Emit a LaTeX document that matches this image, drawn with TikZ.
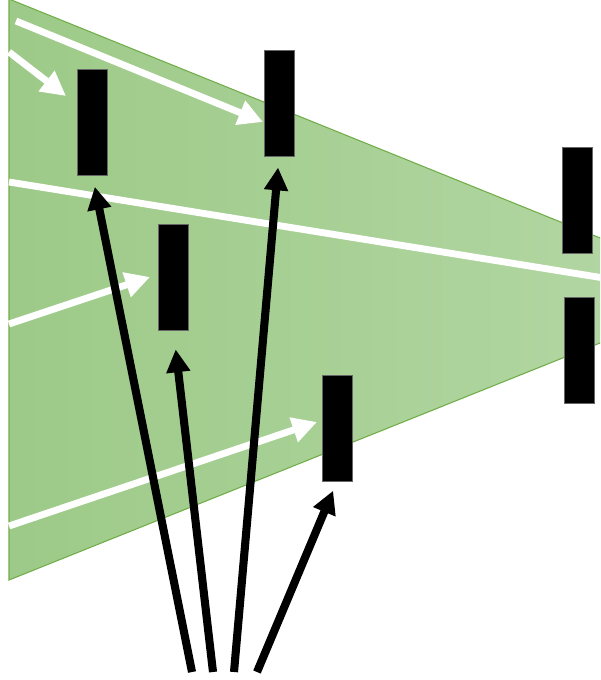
\documentclass[tikz,border=0pt]{standalone}
\usetikzlibrary{arrows.meta}
\definecolor{gleft}{RGB}{157,202,136}
\definecolor{gright}{RGB}{178,214,162}
\definecolor{gedge}{RGB}{112,173,71}
\tikzset{
  blk/.style={draw=black!60, line width=0.4pt, fill=black, minimum width=30*0.02cm, minimum height=106*0.02cm, inner sep=0pt, outer sep=0pt},
  warr/.style={draw=white, line width=3.9pt, -{Triangle[length=14pt,width=14pt]}},
  wline/.style={draw=white, line width=3.9pt},
  barr/.style={draw=black, line width=4.6pt, -{Triangle[length=13pt,width=13pt]}}
}
\begin{document}
\begin{tikzpicture}[x=0.02cm,y=-0.02cm]
\useasboundingbox (0,0) rectangle (600,680);
\clip (0,0) rectangle (600,680);
% beam
\path[left color=gleft, right color=gright, draw=gedge, line width=0.6pt]
  (9,-1) -- (620,246) -- (620,335) -- (9,580) -- cycle;
% boxes
\node[blk] (A) at (92.5,122) {};
\node[blk] (B) at (279,103.5) {};
\node[blk] (C) at (173.5,277.5) {};
\node[blk] (D) at (337,428.5) {};
\node[blk] (E) at (577,200) {};
\node[blk] (F) at (579.5,350) {};
% white arrow ends
\coordinate (w1s) at (9,52);   \coordinate (w1e) at (66,96);
\coordinate (w2s) at (16,21);  \coordinate (w2e) at (263,122);
\coordinate (w3s) at (9,182);  \coordinate (w3e) at (610,279);
\coordinate (w4s) at (9,324);  \coordinate (w4e) at (150,277);
\coordinate (w5s) at (9,526);  \coordinate (w5e) at (317,422);
\draw[warr] (w1s) -- (w1e);
\draw[warr] (w2s) -- (w2e);
\draw[wline] (w3s) -- (w3e);
\draw[warr] (w4s) -- (w4e);
\draw[warr] (w5s) -- (w5e);
% black arrows
\coordinate (b1) at (192,672);
\coordinate (b2) at (213,672);
\coordinate (b3) at (234,672);
\coordinate (b4) at (257,672);
\draw[barr, shorten >=12*0.02cm] (b1) -- (A.south);
\draw[barr, shorten >=19*0.02cm] (b2) -- (C.south);
\draw[barr, shorten >=11*0.02cm] (b3) -- (B.south);
\draw[barr, shorten >=10*0.02cm] (b4) -- (D.south);
\end{tikzpicture}
\end{document}
